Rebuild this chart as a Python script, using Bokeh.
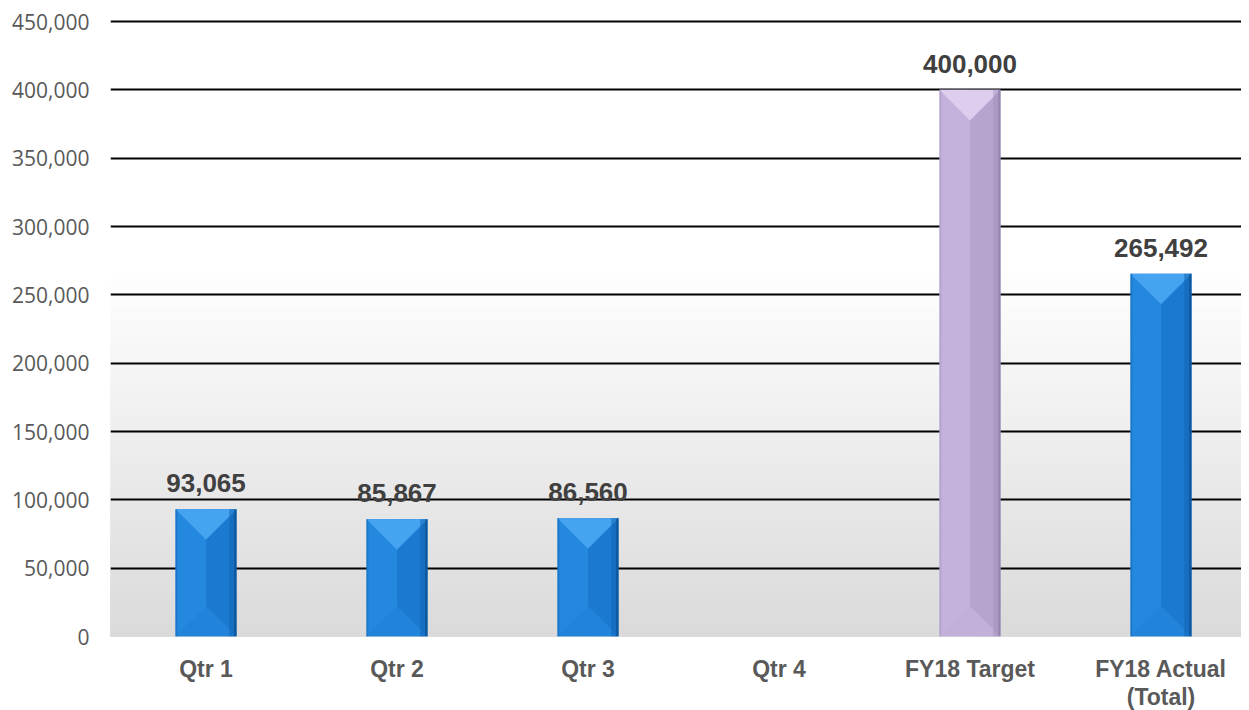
from bokeh.plotting import figure
from bokeh.models import Range1d, FixedTicker, BoxAnnotation, NumeralTickFormatter
from bokeh.core.properties import value
from bokeh.embed import file_html
from bokeh.resources import INLINE

# ---- data ----
categories = ["Qtr 1", "Qtr 2", "Qtr 3", "Qtr 4", "FY18 Target", "FY18 Actual\n(Total)"]
values = [93065, 85867, 86560, None, 400000, 265492]
labels = ["93,065", "85,867", "86,560", "", "400,000", "265,492"]
is_target = [False, False, False, False, True, False]
y_ticks = [0, 50000, 100000, 150000, 200000, 250000, 300000, 350000, 400000, 450000]

# ---- layout / style ----
FW, FH = 1131, 617
BL, BR, BT = 110, 0, 19
Y_MAX = 450000
Y_END = Y_MAX * (FH / 615.0)
X_END = FW / 191.0
BAR_W = 0.32

px_x = FW / X_END
px_y = FH / Y_END
tri_depth = (BAR_W * px_x / 2) / px_y

p = figure(frame_width=FW, frame_height=FH, output_backend="svg", toolbar_location=None,
           x_range=Range1d(0, X_END), y_range=Range1d(0, Y_END),
           min_border_left=BL, min_border_right=BR, min_border_top=BT,
           min_border_bottom=10)
p.outline_line_color = None
p.background_fill_color = "white"
p.border_fill_color = "white"

# gradient background (bottom gray to white), stacked to avoid seams
n = 60
g_top = 270000
for k in reversed(range(n)):
    t = g_top * (k + 1) / n
    f = (k + 0.5) / n
    g = int(round(218 + (255 - 218) * f))
    col = "#%02x%02x%02x" % (g, g, g)
    p.add_layout(BoxAnnotation(bottom=0, top=t, fill_color=col, fill_alpha=1.0,
                               line_color=None, level="image"))

# grid
p.xgrid.visible = False
p.ygrid.ticker = FixedTicker(ticks=y_ticks[1:])
p.ygrid.grid_line_color = "black"
p.ygrid.grid_line_width = 1.8

# axes
p.yaxis.ticker = FixedTicker(ticks=y_ticks)
p.yaxis.formatter = NumeralTickFormatter(format="0,0")
p.yaxis.axis_line_color = None
p.yaxis.major_tick_line_color = None
p.yaxis.minor_tick_line_color = None
p.yaxis.major_tick_out = 0
p.yaxis.major_tick_in = 0
p.yaxis.minor_tick_out = 0
p.yaxis.major_label_text_font = "Open Sans"
p.yaxis.major_label_text_font_size = "21px"
p.yaxis.major_label_text_color = "#595959"
p.yaxis.major_label_standoff = 21

xs = [i + 0.5 for i in range(len(categories))]
p.xaxis.ticker = FixedTicker(ticks=xs)
p.xaxis.major_label_overrides = {x: c for x, c in zip(xs, categories)}
p.xaxis.axis_line_color = None
p.xaxis.major_tick_line_color = None
p.xaxis.minor_tick_line_color = None
p.xaxis.major_tick_out = 0
p.xaxis.major_tick_in = 0
p.xaxis.minor_tick_out = 0
p.xaxis.major_label_text_font = "Liberation Sans"
p.xaxis.major_label_text_font_style = "bold"
p.xaxis.major_label_text_font_size = "23px"
p.xaxis.major_label_text_line_height = 1.1
p.xaxis.major_label_text_color = "#595959"
p.xaxis.major_label_standoff = 19

blue = dict(lh="#2388de", rh="#1b7ad0", re="#0f62b0", ree="#0a4f92",
            le="#1a6cbc", top="#45a3ef", bot="#2183da")
purple = dict(lh="#c4b2dc", rh="#b6a4ce", re="#a08eba", ree="#8f7ea8",
              le="#a999c2", top="#ddcdef", bot="#c2b0da")

for x, v, tgt in zip(xs, values, is_target):
    if v is None:
        continue
    c = purple if tgt else blue
    l, r = x - BAR_W / 2, x + BAR_W / 2
    p.quad(left=[l], right=[x], bottom=[0], top=[v], fill_color=c["lh"], line_color=None)
    p.quad(left=[x], right=[r], bottom=[0], top=[v], fill_color=c["rh"], line_color=None)
    p.patch([l, r, x], [0, 0, tri_depth], fill_color=c["bot"], line_color=None)
    p.patch([l, r, x], [v, v, v - tri_depth], fill_color=c["top"], line_color=None)
    p.quad(left=[r - BAR_W * 0.12], right=[r - BAR_W * 0.04], bottom=[0], top=[v],
           fill_color=c["re"], fill_alpha=0.5, line_color=None)
    p.quad(left=[r - BAR_W * 0.04], right=[r], bottom=[0], top=[v],
           fill_color=c["ree"], fill_alpha=0.8, line_color=None)
    p.quad(left=[l], right=[l + BAR_W * 0.03], bottom=[0], top=[v],
           fill_color=c["le"], fill_alpha=0.6, line_color=None)

# value labels
lx = [x for x, v in zip(xs, values) if v is not None]
ly = [v for v in values if v is not None]
lt = [t for t, v in zip(labels, values) if v is not None]
p.text(x=lx, y=ly, text=lt, text_align="center", text_baseline="bottom",
       y_offset=-17, text_font=value("Liberation Sans"), text_font_style="bold",
       text_font_size="26px", text_color="#404040")

open("out.html", "w").write(file_html(p, INLINE))
